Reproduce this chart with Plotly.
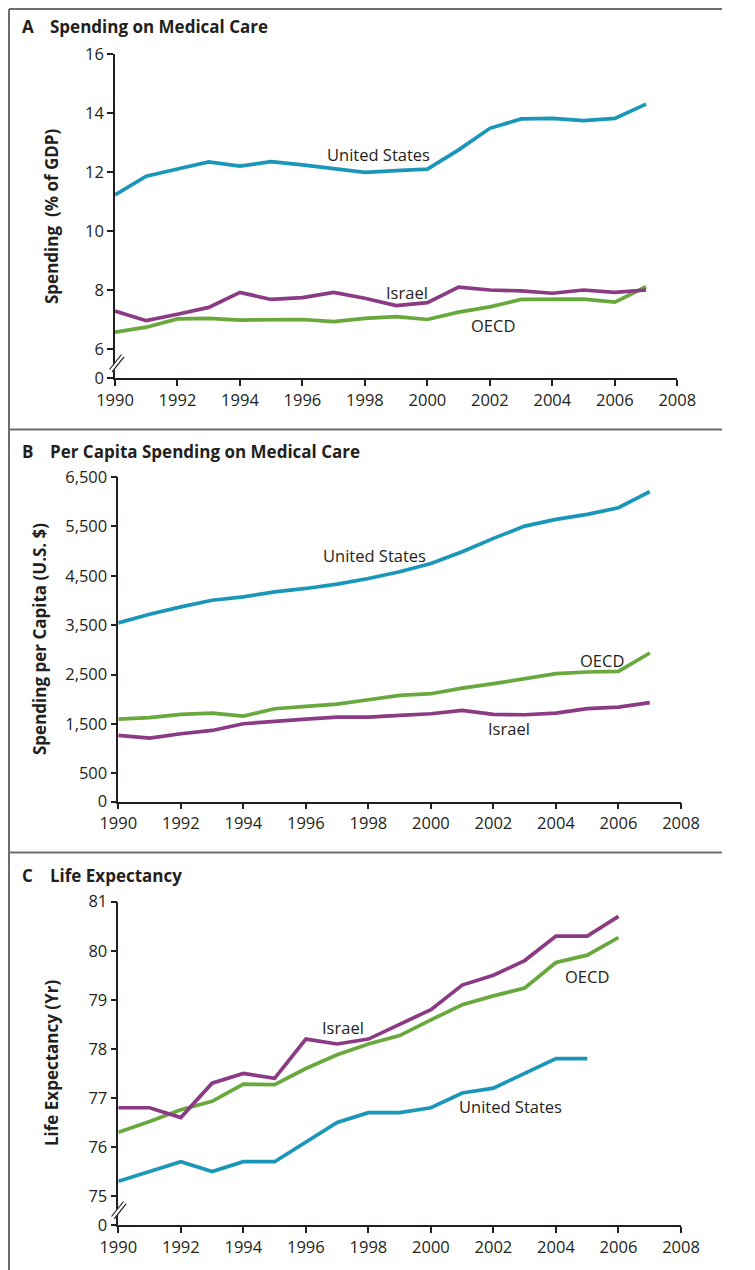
import plotly.graph_objects as go

W, H = 755, 1270
OFF = 8  # page body margin offset

# ---------------- data ----------------
years_a = list(range(1990, 2008))
us_gdp = [11.22, 11.86, 12.1, 12.34, 12.2, 12.35, 12.24, 12.13, 11.99, 12.05, 12.1,
          12.75, 13.48, 13.8, 13.82, 13.74, 13.82, 14.3]
israel_gdp = [7.29, 6.96, 7.18, 7.41, 7.92, 7.68, 7.74, 7.92, 7.72, 7.47, 7.57,
              8.1, 8.0, 7.97, 7.89, 8.0, 7.92, 8.0]
oecd_gdp = [6.57, 6.74, 7.02, 7.04, 6.98, 6.98, 7.0, 6.93, 7.04, 7.1, 7.0,
            7.25, 7.43, 7.68, 7.68, 7.69, 7.59, 8.11]

years_b = list(range(1990, 2008))
us_pc = [3545, 3720, 3870, 4005, 4072, 4174, 4243, 4330, 4445, 4580, 4750,
         4985, 5257, 5506, 5642, 5743, 5877, 6202]
israel_pc = [1267, 1213, 1301, 1368, 1504, 1557, 1597, 1638, 1638, 1672, 1706,
             1773, 1693, 1686, 1719, 1808, 1841, 1930]
oecd_pc = [1597, 1626, 1693, 1719, 1658, 1808, 1855, 1900, 1990, 2078, 2112,
           2226, 2315, 2417, 2518, 2551, 2565, 2936]

years_c_us = list(range(1990, 2006))
years_c = list(range(1990, 2007))
us_le = [75.3, 75.5, 75.7, 75.5, 75.7, 75.7, 76.1, 76.5, 76.7, 76.7, 76.8,
         77.1, 77.2, 77.5, 77.8, 77.8]
israel_le = [76.8, 76.8, 76.6, 77.3, 77.5, 77.4, 78.2, 78.1, 78.2, 78.5, 78.8,
             79.3, 79.5, 79.8, 80.3, 80.3, 80.7]
oecd_le = [76.3, 76.52, 76.76, 76.93, 77.28, 77.27, 77.6, 77.88, 78.1, 78.27, 78.59,
           78.9, 79.08, 79.24, 79.76, 79.91, 80.27]

x_ticks = list(range(1990, 2009, 2))

a_tickvals = [5.017, 6, 8, 10, 12, 14, 16]
a_ticktext = ["0", "6", "8", "10", "12", "14", "16"]
b_tickvals = [-75, 500, 1500, 2500, 3500, 4500, 5500, 6500]
b_ticktext = ["0", "500", "1,500", "2,500", "3,500", "4,500", "5,500", "6,500"]
c_tickvals = [74.41, 75, 76, 77, 78, 79, 80, 81]
c_ticktext = ["0", "75", "76", "77", "78", "79", "80", "81"]

# ---------------- style ----------------
C_US = "#1a96b9"
C_IS = "#8b3a84"
C_OE = "#69a83c"
INK = "#231f20"
FONT = "Open Sans"
LW = 3.7


def px(x):
    return (x - OFF) / W


def py(y):
    return 1 - (y - OFF) / H


fig = go.Figure()

def add(x, y, color, xa, ya):
    fig.add_trace(go.Scatter(x=x, y=y, mode="lines", line=dict(color=color, width=LW),
                             xaxis=xa, yaxis=ya, showlegend=False, hoverinfo="skip"))

add(years_a, oecd_gdp, C_OE, "x", "y")
add(years_a, israel_gdp, C_IS, "x", "y")
add(years_a, us_gdp, C_US, "x", "y")
add(years_b, oecd_pc, C_OE, "x2", "y2")
add(years_b, israel_pc, C_IS, "x2", "y2")
add(years_b, us_pc, C_US, "x2", "y2")
add(years_c, oecd_le, C_OE, "x3", "y3")
add(years_c, israel_le, C_IS, "x3", "y3")
add(years_c_us, us_le, C_US, "x3", "y3")

axis_common = dict(showline=True, linecolor=INK, linewidth=1.5, ticks="outside",
                   ticklen=6, tickwidth=1.5, tickcolor=INK, showgrid=False,
                   zeroline=False, tickfont=dict(family=FONT, size=16.5, color=INK),
                   fixedrange=True, automargin=False)

xcommon = dict(axis_common, range=[1990, 2008], tickvals=x_ticks)

fig.update_layout(
    width=W, height=H, margin=dict(l=0, r=0, t=0, b=0, pad=0, autoexpand=False),
    paper_bgcolor="white", plot_bgcolor="white",
    xaxis=dict(xcommon, domain=[px(115), px(677.3)], anchor="y"),
    yaxis=dict(axis_common, domain=[py(378), py(54)], range=[5.017, 16],
               tickvals=a_tickvals, ticktext=a_ticktext, anchor="x"),
    xaxis2=dict(xcommon, domain=[px(118.3), px(681)], anchor="y2"),
    yaxis2=dict(axis_common, domain=[py(801.7), py(477)], range=[-75, 6500],
                tickvals=b_tickvals, ticktext=b_ticktext, anchor="x2"),
    xaxis3=dict(xcommon, domain=[px(118.3), px(681)], anchor="y3"),
    yaxis3=dict(axis_common, domain=[py(1225), py(901.7)], range=[74.41, 81],
                tickvals=c_tickvals, ticktext=c_ticktext, anchor="x3"),
)

ann = []

def title(letter, text, ycen):
    ann.append(dict(text="<b>%s</b>" % letter, x=px(20), y=py(ycen), xref="paper", yref="paper",
                    xanchor="left", yanchor="middle", showarrow=False,
                    font=dict(family=FONT, size=17, color=INK)))
    ann.append(dict(text="<b>%s</b>" % text, x=px(48), y=py(ycen), xref="paper", yref="paper",
                    xanchor="left", yanchor="middle", showarrow=False,
                    font=dict(family=FONT, size=17, color=INK)))

title("A", "Spending on Medical Care", 27)
title("B", "Per Capita Spending on Medical Care", 451)
title("C", "Life Expectancy", 875)

def ytitle(text, xc, yc):
    ann.append(dict(text="<b>%s</b>" % text, x=px(xc), y=py(yc), xref="paper", yref="paper",
                    xanchor="center", yanchor="middle", showarrow=False, textangle=-90,
                    font=dict(family=FONT, size=17, color=INK)))

ytitle("Spending&nbsp;&nbsp;(% of GDP)", 51, 217)
ytitle("Spending per Capita (U.S. $)", 40, 639)
ytitle("Life Expectancy (Yr)", 51, 1063)

def label(text, x, y, xr, yr):
    ann.append(dict(text=text, x=x, y=y, xref=xr, yref=yr, showarrow=False,
                    xanchor="center", yanchor="middle",
                    font=dict(family=FONT, size=16.5, color=INK)))

label("United States", 1998.43, 12.58, "x", "y")
label("Israel", 1999.34, 7.92, "x", "y")
label("OECD", 2002.09, 6.79, "x", "y")
label("United States", 1998.21, 4920, "x2", "y2")
label("OECD", 2005.47, 2794, "x2", "y2")
label("Israel", 2002.5, 1407, "x2", "y2")
label("Israel", 1997.18, 78.44, "x3", "y3")
label("OECD", 2004.98, 79.47, "x3", "y3")
label("United States", 2002.53, 76.83, "x3", "y3")

fig.update_layout(annotations=ann)

shapes = []
BORDER = "#6d6e71"

def pline(x0, y0, x1, y1, color, width):
    shapes.append(dict(type="line", xref="paper", yref="paper", x0=px(x0), y0=py(y0),
                       x1=px(x1), y1=py(y1), line=dict(color=color, width=width), layer="above"))

# frame (left/top edges clamped to the drawable area)
pline(9, 9, 9, 1280, BORDER, 2)
pline(9, 9, 722, 9, BORDER, 2)
pline(9, 429.5, 722, 429.5, BORDER, 2)
pline(9, 852.5, 722, 852.5, BORDER, 2)

# axis breaks
def brk(cx, cy):
    dx, dy = 6, 7.5
    pline(cx - dx + 1.2, cy + dy + 1.2, cx + dx + 1.2, cy - dy + 1.2, "white", 4)
    pline(cx - dx, cy + dy, cx + dx, cy - dy, INK, 1.2)
    pline(cx - dx + 2.6, cy + dy + 2.4, cx + dx + 2.6, cy - dy + 2.4, INK, 1.2)

brk(115.5, 362)
brk(117.5, 1209)

fig.update_layout(shapes=shapes)

fig.write_html("out.html")
